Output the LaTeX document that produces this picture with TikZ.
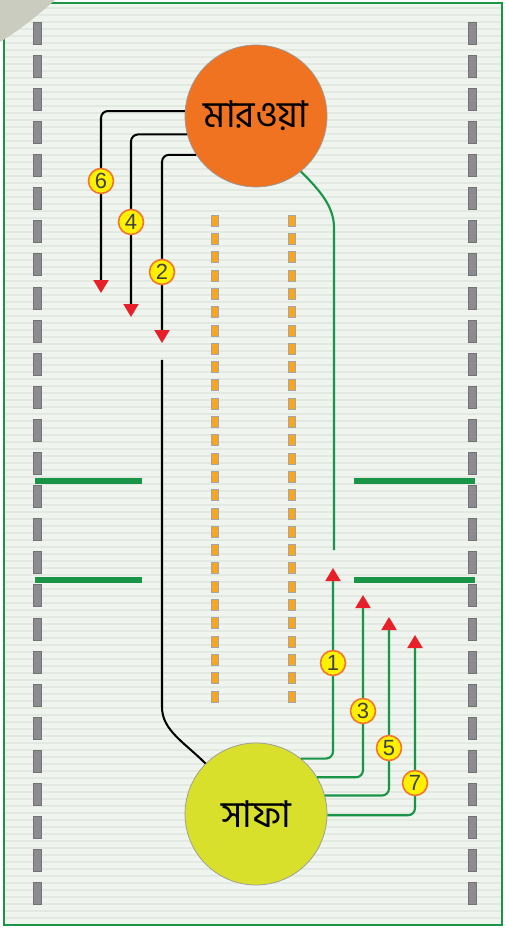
\documentclass[tikz,border=0pt]{standalone}
\usepackage{fontspec}
\setmainfont{Liberation Sans}
\newfontfamily\bnfont[Script=Bengali]{Hind Siliguri}
\usetikzlibrary{arrows.meta,positioning}
\definecolor{marwaorange}{HTML}{F07322}
\definecolor{safayellow}{HTML}{D8E02C}
\definecolor{pathgreen}{HTML}{1A9447}
\definecolor{tagyellow}{HTML}{FFF100}
\definecolor{tagborder}{HTML}{F2752E}
\definecolor{pillar}{HTML}{F6A623}
\definecolor{wallgrey}{HTML}{8C8C90}
\definecolor{paper}{HTML}{EFF4EE}
\definecolor{stripe}{HTML}{E2E9E1}
\definecolor{curlgrey}{HTML}{C9CCBF}
\definecolor{tipred}{HTML}{E8202A}

\begin{document}
\begin{tikzpicture}[x=0.02cm,y=-0.02cm]
  \tikzstyle{hill} = [circle, draw=black!40, thin, minimum size=2.84cm, inner sep=0pt, font=\bnfont\fontsize{21}{24}\selectfont]
  \tikzstyle{numtag} = [circle, draw=tagborder, fill=tagyellow, line width=0.9pt, minimum size=0.5cm, inner sep=0pt, font=\fontsize{12.5}{12.5}\selectfont, text=black!75]
  \tikzstyle{blackline} = [draw=black, line width=1.15pt, rounded corners=4pt]
  \tikzstyle{greenline} = [draw=pathgreen, line width=1.2pt, rounded corners=4pt]
  \tikzstyle{redtip} = [-{Triangle[width=0.3cm,length=0.26cm,color=tipred]}]
  \tikzstyle{wallbar} = [draw=pathgreen, line width=0.12cm]

  \useasboundingbox (0,0) rectangle (508,928);
  \fill[white] (0,0) rectangle (508,928);
  \fill[paper] (4,3) rectangle (502,925);
  \foreach \y in {8,15,...,920}
    \draw[stripe, line width=0.03cm] (5,\y) -- (501,\y);
  \draw[pathgreen, line width=0.04cm] (4,3) rectangle (502,925);
  \fill[curlgrey] (0,0) -- (55,0) .. controls (36,17) and (18,31) .. (0,42) -- cycle;

  % grey walls
  \foreach \i in {0,...,26} {
    \filldraw[fill=wallgrey, draw=black!55, line width=0.3pt] (33,22+33.1*\i) rectangle ++(8,22);
    \filldraw[fill=wallgrey, draw=black!55, line width=0.3pt] (468,22+33.1*\i) rectangle ++(8,22);
  }
  % orange pillars
  \foreach \i in {0,...,26} {
    \filldraw[fill=pillar, draw=black!35, line width=0.3pt] (211,215+18.3*\i) rectangle ++(7,11);
    \filldraw[fill=pillar, draw=black!35, line width=0.3pt] (288,215+18.3*\i) rectangle ++(7,11);
  }
  % green bars
  \draw[wallbar] (35,481) -- (142,481);
  \draw[wallbar] (35,580) -- (142,580);
  \draw[wallbar] (354,481) -- (475,481);
  \draw[wallbar] (354,580) -- (475,580);

  \node[hill, fill=marwaorange] (marwa) at (256,116) {মারওয়া};
  \node[hill, fill=safayellow] (safa) at (256,814) {সাফা};

  \coordinate (t6) at (101,293);
  \coordinate (t4) at (131,317);
  \coordinate (t2) at (162,343);
  \coordinate (r2) at (162,360);
  \coordinate (g0) at (334,550);
  \coordinate (a1) at (333,568);
  \coordinate (a3) at (363,595);
  \coordinate (a5) at (389,617);
  \coordinate (a7) at (415,635);

  \draw[blackline, redtip] (marwa.176) -| (t6);
  \draw[blackline, redtip] (marwa.195.5) -| (t4);
  \draw[blackline, redtip] (marwa.213) -| (t2);
  \draw[blackline] (r2) -- ++(0,340) to[out=-90,in=135] (safa.135);

  \draw[greenline] (marwa.-51) to[out=-45,in=90] (334,235) -- (g0);
  \draw[greenline, redtip] (safa.51) -| (a1);
  \draw[greenline, redtip] (safa.31) -| (a3);
  \draw[greenline, redtip] (safa.15) -| (a5);
  \draw[greenline, redtip] (safa.-1) -| (a7);

  \node[numtag] (n6) at (101,181) {6};
  \node[numtag] (n4) at (131,222) {4};
  \node[numtag] (n2) at (162,272) {2};
  \node[numtag] (n1) at (333,663) {1};
  \node[numtag] (n3) at (363,711) {3};
  \node[numtag] (n5) at (389,748) {5};
  \node[numtag] (n7) at (415,783) {7};
\end{tikzpicture}
\end{document}
